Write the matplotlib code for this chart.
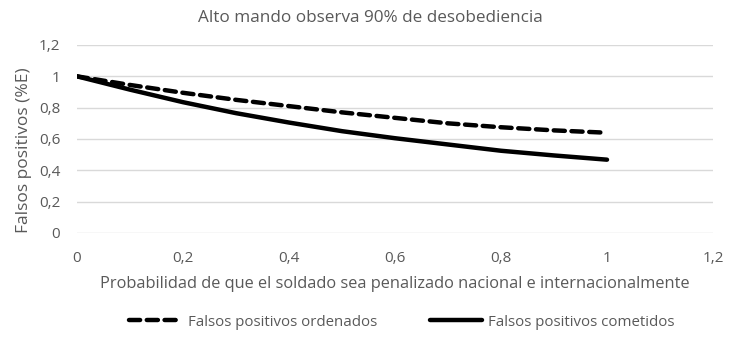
import matplotlib
matplotlib.use("Agg")
import matplotlib.pyplot as plt

x = [0, 0.1, 0.2, 0.3, 0.4, 0.5, 0.6, 0.7, 0.8, 0.9, 1.0]
ordenados = [1.0, 0.945, 0.895, 0.85, 0.81, 0.77, 0.735, 0.70, 0.675, 0.655, 0.64]
cometidos = [1.0, 0.915, 0.835, 0.765, 0.705, 0.65, 0.605, 0.565, 0.525, 0.495, 0.468]
xticks = [0, 0.2, 0.4, 0.6, 0.8, 1.0, 1.2]
xticklabels = ["0", "0,2", "0,4", "0,6", "0,8", "1", "1,2"]
yticks = [0, 0.2, 0.4, 0.6, 0.8, 1.0, 1.2]
yticklabels = ["0", "0,2", "0,4", "0,6", "0,8", "1", "1,2"]

plt.rcParams['font.family'] = ['Open Sans', 'DejaVu Sans']
txt = '#595959'

fig = plt.figure(figsize=(7.41, 3.51), dpi=100)
ax = fig.add_axes([77/741, 1 - 233/351, (713-77)/741, (233-45)/351])

ax.plot(x, ordenados, color='black', lw=3.2, ls=(0, (2.5, 1.5)), dash_capstyle='round',
        label='Falsos positivos ordenados')
ax.plot(x, cometidos, color='black', lw=3.2, solid_capstyle='round',
        label='Falsos positivos cometidos')

ax.set_xlim(0, 1.2)
ax.set_ylim(0, 1.2)
ax.set_xticks(xticks)
ax.set_xticklabels(xticklabels)
ax.set_yticks(yticks)
ax.set_yticklabels(yticklabels)
ax.grid(axis='y', color='#d9d9d9', lw=1)
ax.set_axisbelow(True)
for s in ax.spines.values():
    s.set_visible(False)
ax.tick_params(length=0, labelsize=11, colors=txt)
ax.tick_params(axis='x', pad=13)
ax.tick_params(axis='y', pad=12)
ax.set_xlabel('Probabilidad de que el soldado sea penalizado nacional e internacionalmente',
              fontsize=11.8, color=txt, labelpad=7)
ax.set_ylabel('Falsos positivos (%E)', fontsize=12.5, color=txt)
ax.yaxis.set_label_coords(-0.07, 0.44)
fig.text(0.5, 1 - 18/351, 'Alto mando observa 90% de desobediencia', ha='center', va='center',
         fontsize=12.3, color=txt)
fig.legend(loc='center', bbox_to_anchor=(402/741, 1 - 322/351), ncol=2, frameon=False,
           fontsize=10.8, labelcolor=txt, handlelength=3.5, columnspacing=3.5, handletextpad=0.4)

fig.savefig('out.png', dpi=100)
